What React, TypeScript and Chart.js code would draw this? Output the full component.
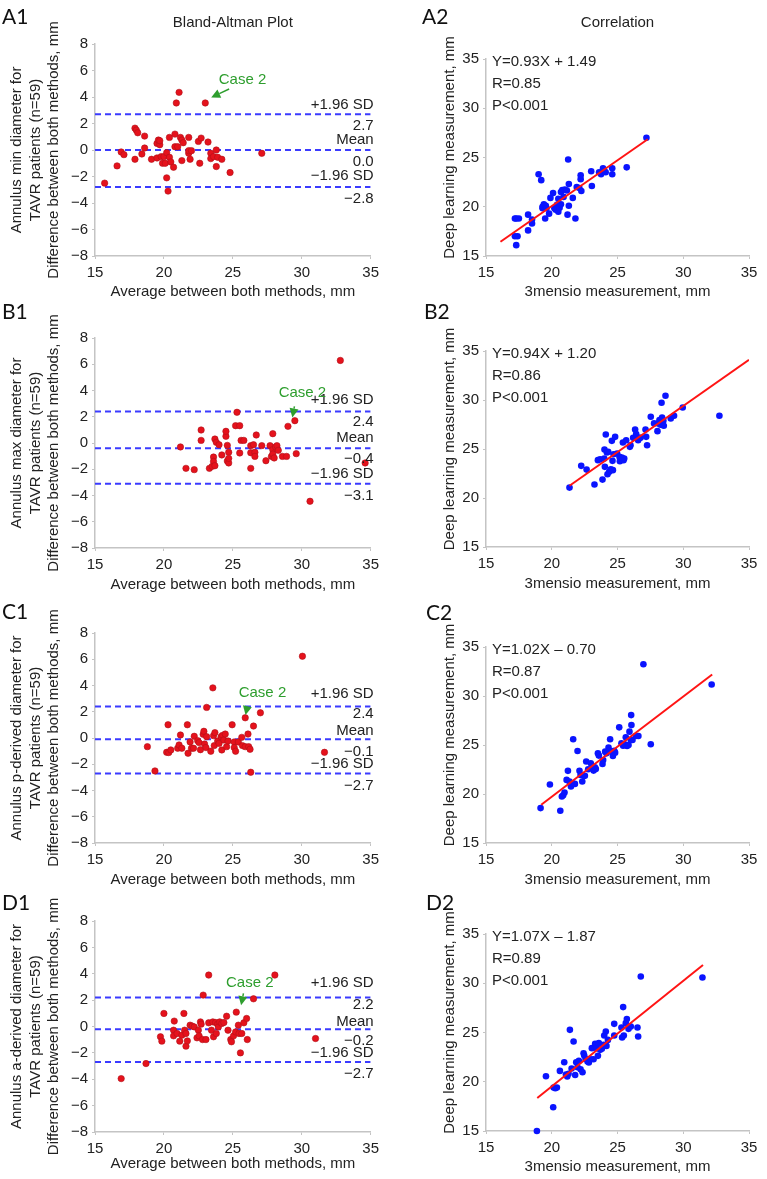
import React, { useEffect, useRef } from "react";
import { Chart, registerables } from "chart.js";

Chart.register(...registerables);

const FONT = "'Liberation Sans', Arial, Helvetica, sans-serif";
const LABEL_FONT = "Lato, 'Open Sans', sans-serif";

// ---------- tick labels ----------
const X_TICKS = [15, 20, 25, 30, 35];
const BA_Y_TICKS = [-8, -6, -4, -2, 0, 2, 4, 6, 8];
const CORR_Y_TICKS = [15, 20, 25, 30, 35];

// ---------- A1: annulus min diameter (Bland-Altman) ----------
const A1_avg = [15.7, 16.6, 16.9, 17.1, 17.9, 17.9, 18.0, 18.1, 18.4, 18.6, 18.6, 19.1, 19.5, 19.5, 19.6, 19.7, 19.7, 19.8, 19.9, 20.0, 20.1, 20.2, 20.2, 20.3, 20.4, 20.4, 20.5, 20.7, 20.8, 20.8, 20.9, 21.0, 21.1, 21.2, 21.3, 21.3, 21.4, 21.8, 21.8, 21.8, 21.9, 22.0, 22.5, 22.6, 22.7, 23.0, 23.2, 23.4, 23.4, 23.6, 23.8, 23.8, 23.9, 24.2, 24.8, 27.1];
const A1_diff = [-2.5, -1.2, -0.15, -0.35, -0.7, 1.65, 1.5, 1.3, -0.3, 1.05, 0.15, -0.7, 0.5, -0.6, 0.75, 0.4, 0.7, -0.5, -1.0, -0.5, -1.0, -2.1, -0.2, -3.1, 0.95, -0.55, -0.9, -1.3, 0.25, 1.2, 3.55, 0.25, 4.35, 0.95, -0.8, 0.75, 0.55, -0.25, -0.05, 0.95, -0.7, -0.05, 0.65, -1.0, 0.9, 3.55, 0.6, -0.25, -0.65, -0.5, 0.0, -1.25, -0.55, -0.7, -1.7, -0.25];
const A1_limits = [2.7, 0.0, -2.8];

// ---------- B1: annulus max diameter ----------
const B1_avg = [21.2, 21.6, 22.2, 22.7, 22.7, 23.3, 23.5, 23.6, 23.6, 23.7, 23.7, 23.8, 24.0, 24.2, 24.5, 24.5, 24.6, 24.6, 24.7, 24.7, 24.7, 25.3, 25.2, 25.5, 25.5, 25.6, 25.8, 26.3, 26.3, 26.3, 26.5, 26.6, 26.6, 26.7, 27.1, 27.4, 27.7, 27.8, 27.9, 27.9, 27.9, 28.0, 28.1, 28.2, 28.3, 28.6, 28.9, 29.0, 29.5, 29.6, 30.6, 32.8, 34.6];
const B1_diff = [-0.3, -1.93, -2.03, 0.99, 0.2, -1.93, -1.78, -1.07, -1.4, -1.73, 0.3, 0.05, -0.13, -0.91, 0.51, 0.89, -0.18, -1.37, -1.52, -0.71, -1.17, 2.34, 1.32, 1.32, -0.76, 0.2, 0.2, -0.2, -0.74, -1.93, -0.13, -0.71, -1.02, 0.61, -0.2, -1.35, -0.2, -1.02, -0.51, 0.71, -0.84, -1.14, -0.3, -0.2, -0.56, -1.02, -1.02, 1.27, 1.7, -0.81, -4.44, 6.29, -1.52];
const B1_limits = [2.4, -0.4, -3.1];

// ---------- C1: annulus p-derived diameter ----------
const C1_avg = [18.8, 19.35, 20.2, 20.3, 20.35, 20.5, 21.0, 21.1, 21.2, 21.3, 21.7, 21.75, 21.9, 22.0, 22.15, 22.2, 22.45, 22.55, 22.65, 22.85, 22.9, 22.95, 23.05, 23.1, 23.1, 23.4, 23.55, 23.6, 23.65, 23.7, 23.9, 24.0, 24.15, 24.2, 24.25, 24.35, 24.45, 24.55, 24.65, 24.95, 25.1, 25.1, 25.2, 25.4, 25.65, 25.7, 25.9, 25.9, 26.1, 26.15, 26.25, 26.3, 26.5, 27.0, 30.05, 31.65];
const C1_diff = [-0.66, -2.51, -1.09, 1.01, -1.11, -0.91, -0.78, -0.53, 0.23, -0.78, 1.01, -1.16, -0.3, -0.78, -0.78, 0.13, -0.2, -0.35, -0.89, 0.28, 0.51, -0.46, -0.73, 2.33, 0.1, -1.01, 3.82, 0.18, -0.58, 0.41, -0.23, -0.41, 0.1, -0.91, 0.2, -0.15, 0.3, -0.66, -0.23, 1.01, -0.3, -0.73, -1.01, -0.3, 0.05, -0.58, -0.66, 1.54, 0.3, -0.66, -0.86, -2.61, 0.91, 1.92, 6.23, -1.09];
const C1_limits = [2.4, -0.1, -2.7];

// ---------- D1: annulus a-derived diameter ----------
const D1_avg = [16.9, 18.7, 19.75, 19.85, 20.0, 20.75, 20.7, 20.7, 20.95, 21.15, 21.3, 21.45, 21.5, 21.6, 21.6, 21.7, 21.9, 22.05, 22.2, 22.4, 22.5, 22.55, 22.65, 22.7, 22.8, 22.85, 23.05, 23.25, 23.25, 23.45, 23.55, 23.6, 23.75, 23.8, 23.9, 23.95, 24.05, 24.2, 24.35, 24.55, 24.65, 24.85, 24.9, 25.05, 25.25, 25.2, 25.4, 25.45, 25.55, 25.65, 25.8, 26.0, 26.05, 26.5, 28.05, 31.0];
const D1_diff = [-3.95, -2.81, -0.78, -1.11, 0.99, 0.41, -0.28, -0.71, -0.53, -1.11, -0.66, 0.99, -0.28, -0.53, -1.49, -1.09, 0.1, 0.03, -0.03, -0.86, -0.28, -0.71, 0.35, 0.18, -0.99, 2.38, -0.99, 3.9, 0.28, -0.28, 0.35, -0.78, 0.3, -0.53, 0.18, -0.03, 0.35, 0.23, 0.3, 0.78, -0.28, -0.99, -1.16, -0.71, 1.09, -0.41, 0.1, -0.53, -2.0, -0.53, 0.28, 0.61, -0.99, 2.1, 3.9, -0.91];
const D1_limits = [2.2, -0.2, -2.7];

// ---------- A2: correlation min diameter ----------
const A2_x = [17.2, 17.3, 17.5, 17.2, 17.4, 17.3, 18.2, 18.2, 18.5, 18.5, 19.0, 19.2, 19.3, 19.3, 19.4, 19.5, 19.55, 19.6, 19.8, 19.9, 20.1, 20.2, 20.3, 20.4, 20.5, 20.5, 20.6, 20.7, 20.7, 20.8, 20.9, 21.0, 21.15, 21.25, 21.2, 21.3, 21.3, 21.6, 21.8, 21.9, 22.1, 22.2, 22.2, 22.25, 23.0, 23.05, 23.6, 23.75, 23.9, 24.0, 24.1, 24.6, 24.6, 25.7, 27.2];
const A2_y = [18.8, 18.8, 18.8, 17.0, 17.0, 16.1, 19.2, 17.6, 18.7, 18.3, 23.3, 22.7, 19.85, 20.0, 20.25, 18.8, 20.1, 19.85, 19.3, 20.9, 21.4, 19.85, 19.7, 20.2, 19.5, 20.8, 19.9, 21.5, 20.25, 21.7, 21.0, 21.75, 21.65, 24.8, 19.2, 20.1, 22.3, 20.9, 18.8, 22.0, 21.9, 22.8, 23.2, 21.6, 23.6, 22.1, 23.5, 23.3, 23.9, 23.6, 23.5, 23.9, 23.3, 24.0, 27.0];
const A2_fitX = [16.1, 27.3];
const A2_fitY = [16.45, 26.85];
const A2_stats = ["Y=0.93X + 1.49", "R=0.85", "P<0.001"];

// ---------- B2: correlation max diameter ----------
const B2_x = [21.35, 22.24, 22.65, 23.25, 23.51, 23.68, 23.86, 23.99, 24.01, 24.11, 24.04, 24.19, 24.24, 24.29, 24.37, 24.49, 24.57, 24.62, 24.65, 24.7, 24.82, 24.97, 25.15, 25.18, 25.33, 25.41, 25.46, 25.51, 25.66, 25.94, 25.99, 26.19, 26.34, 26.42, 26.57, 26.65, 26.75, 27.13, 27.18, 27.25, 27.53, 27.78, 28.04, 28.1, 28.19, 28.27, 28.35, 28.39, 28.42, 28.49, 28.52, 28.65, 29.05, 29.3, 29.96, 32.75];
const B2_y = [21.06, 23.28, 22.9, 21.37, 23.86, 23.96, 21.88, 24.03, 24.95, 26.48, 23.18, 24.64, 22.43, 24.71, 22.67, 22.94, 25.83, 23.79, 22.84, 24.47, 26.24, 24.54, 24.2, 23.76, 24.13, 25.66, 23.86, 24.03, 25.9, 25.22, 25.39, 26.14, 26.99, 26.52, 25.9, 26.14, 26.14, 26.99, 26.24, 25.39, 28.29, 27.61, 26.82, 27.61, 27.95, 27.47, 29.72, 28.22, 27.61, 27.88, 27.37, 30.43, 28.12, 28.39, 29.24, 28.39];
const B2_fitX = [21.35, 35.0];
const B2_fitY = [21.25, 34.1];
const B2_stats = ["Y=0.94X + 1.20", "R=0.86", "P<0.001"];

// ---------- C2: correlation p-derived diameter ----------
const C2_x = [19.15, 19.86, 20.65, 20.77, 20.87, 20.97, 21.13, 21.23, 21.35, 21.46, 21.58, 21.63, 21.76, 21.96, 22.11, 22.19, 22.32, 22.42, 22.52, 22.62, 22.77, 22.97, 23.1, 23.18, 23.28, 23.35, 23.51, 23.58, 23.86, 23.91, 24.06, 24.16, 24.32, 24.39, 24.44, 24.54, 24.65, 24.75, 24.82, 25.13, 25.3, 25.43, 25.51, 25.63, 25.73, 25.84, 25.91, 26.01, 26.04, 26.06, 26.14, 26.39, 26.59, 26.97, 27.53, 32.16];
const C2_y = [18.56, 20.97, 18.29, 19.75, 19.88, 20.15, 21.44, 22.36, 21.27, 20.76, 21.1, 25.58, 21.03, 24.39, 22.36, 21.95, 21.27, 21.85, 21.85, 23.31, 22.53, 23.14, 22.8, 22.39, 22.73, 22.56, 24.15, 23.92, 23.07, 23.47, 24.32, 24.15, 24.73, 24.42, 25.58, 24.32, 23.88, 24.42, 24.22, 26.8, 25.17, 24.93, 25.1, 25.78, 24.9, 25.0, 26.36, 25.51, 28.05, 27.03, 25.51, 25.92, 25.92, 33.24, 25.07, 31.17];
const C2_fitX = [19.2, 32.2];
const C2_fitY = [18.9, 32.2];
const C2_stats = ["Y=1.02X \u2013 0.70", "R=0.87", "P<0.001"];

// ---------- D2: correlation a-derived diameter ----------
const D2_x = [18.87, 19.56, 20.11, 20.14, 20.27, 20.39, 20.62, 20.95, 21.08, 21.18, 21.28, 21.38, 21.51, 21.66, 21.78, 21.86, 21.96, 22.06, 22.19, 22.34, 22.42, 22.47, 22.57, 22.72, 22.82, 22.95, 23.05, 23.18, 23.3, 23.41, 23.51, 23.58, 23.68, 23.81, 23.94, 23.99, 24.11, 24.16, 24.27, 24.75, 24.75, 25.3, 25.35, 25.43, 25.48, 25.63, 25.71, 25.84, 26.01, 26.52, 26.57, 26.77, 31.46];
const D2_y = [15.0, 20.56, 17.41, 19.41, 19.34, 19.41, 21.1, 21.98, 20.73, 20.53, 20.8, 25.27, 21.34, 24.08, 20.69, 21.98, 21.47, 22.12, 21.27, 20.97, 22.9, 22.66, 22.32, 22.05, 21.95, 22.29, 23.41, 22.29, 23.85, 23.41, 22.63, 23.92, 23.24, 23.34, 23.75, 24.69, 25.1, 23.64, 24.25, 24.69, 25.88, 25.51, 24.49, 27.58, 24.69, 25.95, 26.36, 25.37, 25.61, 25.51, 24.59, 30.69, 30.59];
const D2_fitX = [18.9, 31.5];
const D2_fitY = [18.35, 31.85];
const D2_stats = ["Y=1.07X \u2013 1.87", "R=0.89", "P<0.001"];

// ---------- texts ----------
const BA_TITLE = "Bland-Altman Plot";
const CORR_TITLE = "Correlation";
const BA_X_TITLE = "Average between both methods, mm";
const CORR_X_TITLE = "3mensio measurement, mm";
const CORR_Y_TITLE = "Deep learning measurement, mm";
const BA_Y_LAST = "Difference between both methods, mm";
const LIMIT_NAMES = ["+1.96 SD", "Mean", "\u22121.96 SD"];
const CASE_TEXT = "Case 2";

// ---------- styling / layout ----------
const AXIS_COLOR = "#c4c4c4";
const TEXT_COLOR = "#222222";
const RED = "#e5121c";
const BLUE = "#0a14ff";
const DASH_BLUE = "#3b3bff";
const FIT_RED = "#ff1414";
const GREEN = "#2e9e2e";
const YW = 40;
const XH = 25;

type Rect = { left: number; top: number; right: number; bottom: number };

interface Panel {
  id: string;
  kind: "ba" | "corr";
  label: string;
  labelPos: [number, number];
  title?: string;
  canvas: { x: number; y: number; w: number; h: number };
  area: Rect;
  xTitleDy: number;
  xs: number[];
  ys: number[];
  yTitle: string[];
  limits?: number[];
  limitOffsets?: number[][];
  caseText?: [number, number];
  caseArrow?: [[number, number], [number, number]];
  fitX?: number[];
  fitY?: number[];
  stats?: string[];
}

const LEFT = { x: 0, w: 384 };
const RIGHT = { x: 384, w: 383 };
const ROWS = [
  { y: 0, h: 318 },
  { y: 288, h: 318 },
  { y: 578, h: 318 },
  { y: 868, h: 311 },
];

const PANELS: Panel[] = [
  {
    id: "A1", kind: "ba", label: "A1", labelPos: [2, 17], title: BA_TITLE,
    canvas: { ...LEFT, ...ROWS[0] }, area: { left: 95, right: 372, top: 44, bottom: 256 }, xTitleDy: 36,
    xs: A1_avg, ys: A1_diff, yTitle: ["Annulus min diameter for", "TAVR patients (n=59)", BA_Y_LAST],
    limits: A1_limits, limitOffsets: [[-9, 12], [-10, 12], [-11, 12]],
    caseText: [25.7, 5.3], caseArrow: [[24.73, 4.6], [23.43, 3.97]],
  },
  {
    id: "A2", kind: "corr", label: "A2", labelPos: [422, 17], title: CORR_TITLE,
    canvas: { ...RIGHT, ...ROWS[0] }, area: { left: 486, right: 749, top: 59, bottom: 256 }, xTitleDy: 36,
    xs: A2_x, ys: A2_y, yTitle: [CORR_Y_TITLE], fitX: A2_fitX, fitY: A2_fitY, stats: A2_stats,
  },
  {
    id: "B1", kind: "ba", label: "B1", labelPos: [2, 312],
    canvas: { ...LEFT, ...ROWS[1] }, area: { left: 95, right: 372, top: 338, bottom: 548 }, xTitleDy: 37,
    xs: B1_avg, ys: B1_diff, yTitle: ["Annulus max diameter for", "TAVR patients (n=59)", BA_Y_LAST],
    limits: B1_limits, limitOffsets: [[-12, 10], [-10, 11], [-10, 12]],
    caseText: [30.05, 3.81], caseArrow: [[29.47, 2.79], [29.32, 1.95]],
  },
  {
    id: "B2", kind: "corr", label: "B2", labelPos: [424, 312],
    canvas: { ...RIGHT, ...ROWS[1] }, area: { left: 486, right: 749, top: 351, bottom: 547 }, xTitleDy: 37,
    xs: B2_x, ys: B2_y, yTitle: [CORR_Y_TITLE], fitX: B2_fitX, fitY: B2_fitY, stats: B2_stats,
  },
  {
    id: "C1", kind: "ba", label: "C1", labelPos: [2, 612],
    canvas: { ...LEFT, ...ROWS[2] }, area: { left: 95, right: 372, top: 633, bottom: 843 }, xTitleDy: 37,
    xs: C1_avg, ys: C1_diff, yTitle: ["Annulus p-derived diameter for", "TAVR patients (n=59)", BA_Y_LAST],
    limits: C1_limits, limitOffsets: [[-13, 7], [-8, 13], [-10, 12]],
    caseText: [27.15, 3.44], caseArrow: [[26.06, 2.43], [25.92, 1.75]],
  },
  {
    id: "C2", kind: "corr", label: "C2", labelPos: [426, 613],
    canvas: { ...RIGHT, ...ROWS[2] }, area: { left: 486, right: 749, top: 647, bottom: 843 }, xTitleDy: 37,
    xs: C2_x, ys: C2_y, yTitle: [CORR_Y_TITLE], fitX: C2_fitX, fitY: C2_fitY, stats: C2_stats,
  },
  {
    id: "D1", kind: "ba", label: "D1", labelPos: [2, 903],
    canvas: { ...LEFT, ...ROWS[3] }, area: { left: 95, right: 372, top: 921, bottom: 1132 }, xTitleDy: 32,
    xs: D1_avg, ys: D1_diff, yTitle: ["Annulus a-derived diameter for", "TAVR patients (n=59)", BA_Y_LAST],
    limits: D1_limits, limitOffsets: [[-15, 7], [-7, 12], [-9, 12]],
    caseText: [26.23, 3.32], caseArrow: [[25.77, 2.51], [25.6, 1.62]],
  },
  {
    id: "D2", kind: "corr", label: "D2", labelPos: [426, 903],
    canvas: { ...RIGHT, ...ROWS[3] }, area: { left: 486, right: 749, top: 934, bottom: 1131 }, xTitleDy: 36,
    xs: D2_x, ys: D2_y, yTitle: [CORR_Y_TITLE], fitX: D2_fitX, fitY: D2_fitY, stats: D2_stats,
  },
];

const fmtNum = (v: number, digits = 0) => {
  const s = Math.abs(v).toFixed(digits);
  return v < 0 ? "\u2212" + s : s;
};

function scaleCfg(ticks: number[], axis: "x" | "y") {
  return {
    type: "linear",
    min: ticks[0],
    max: ticks[ticks.length - 1],
    afterBuildTicks: (s: any) => {
      s.ticks = ticks.map((v) => ({ value: v }));
    },
    afterFit: (s: any) => {
      if (axis === "x") s.height = XH;
      else s.width = YW;
    },
    ticks: {
      font: { size: 15, family: FONT },
      color: TEXT_COLOR,
      padding: axis === "x" ? 5 : 4,
      callback: (v: any) => fmtNum(Number(v)),
    },
    grid: { display: true, drawOnChartArea: false, drawTicks: true, tickLength: 3, color: AXIS_COLOR, lineWidth: 1 },
    border: { display: true, color: AXIS_COLOR, width: 1.5 },
  };
}

function drawArrow(ctx: CanvasRenderingContext2D, x1: number, y1: number, x2: number, y2: number) {
  const ang = Math.atan2(y2 - y1, x2 - x1);
  const head = 9;
  const half = 4.5;
  const bx = x2 - head * Math.cos(ang);
  const by = y2 - head * Math.sin(ang);
  ctx.strokeStyle = GREEN;
  ctx.fillStyle = GREEN;
  ctx.lineWidth = 1.5;
  ctx.beginPath();
  ctx.moveTo(x1, y1);
  ctx.lineTo(bx, by);
  ctx.stroke();
  ctx.beginPath();
  ctx.moveTo(x2, y2);
  ctx.lineTo(bx + half * Math.sin(ang), by - half * Math.cos(ang));
  ctx.lineTo(bx - half * Math.sin(ang), by + half * Math.cos(ang));
  ctx.closePath();
  ctx.fill();
}

function overlayPlugin(p: Panel) {
  return {
    id: "overlay" + p.id,
    afterDraw(chart: any) {
      const { ctx, chartArea: a, scales } = chart;
      const sx = scales.x;
      const sy = scales.y;
      const ox = p.canvas.x;
      const oy = p.canvas.y;
      const cx = (a.left + a.right) / 2;
      const cy = (a.top + a.bottom) / 2;
      ctx.save();
      ctx.font = `21px ${LABEL_FONT}`;
      ctx.fillStyle = "#111";
      ctx.textAlign = "left";
      ctx.textBaseline = "middle";
      ctx.fillText(p.label, p.labelPos[0] - ox, p.labelPos[1] - oy);
      ctx.font = `15px ${FONT}`;
      ctx.fillStyle = TEXT_COLOR;
      if (p.title) {
        ctx.textAlign = "center";
        ctx.fillText(p.title, cx, 23 - oy);
      }
      ctx.textAlign = "center";
      ctx.fillText(p.kind === "ba" ? BA_X_TITLE : CORR_X_TITLE, cx, a.bottom + p.xTitleDy);
      const yDx = p.kind === "ba" ? [-78, -59, -41] : [-36];
      const yCy = p.kind === "ba" ? cy : cy - 10;
      p.yTitle.forEach((line, i) => {
        ctx.save();
        ctx.translate(a.left + yDx[i], yCy);
        ctx.rotate(-Math.PI / 2);
        ctx.textAlign = "center";
        ctx.textBaseline = "middle";
        ctx.fillText(line, 0, 0);
        ctx.restore();
      });
      if (p.kind === "ba" && p.limits && p.limitOffsets) {
        ctx.textAlign = "right";
        ctx.textBaseline = "middle";
        ctx.fillStyle = TEXT_COLOR;
        p.limits.forEach((v, i) => {
          const py = sy.getPixelForValue(v);
          const [up, down] = p.limitOffsets![i];
          ctx.fillText(LIMIT_NAMES[i], a.right + 3, py + up);
          ctx.fillText(fmtNum(v, 1), a.right + 3, py + down);
        });
        if (p.caseText && p.caseArrow) {
          ctx.fillStyle = GREEN;
          ctx.textAlign = "center";
          ctx.fillText(CASE_TEXT, sx.getPixelForValue(p.caseText[0]), sy.getPixelForValue(p.caseText[1]));
          const [[tx, ty], [hx, hy]] = p.caseArrow;
          drawArrow(ctx, sx.getPixelForValue(tx), sy.getPixelForValue(ty), sx.getPixelForValue(hx), sy.getPixelForValue(hy));
        }
      }
      if (p.kind === "corr" && p.stats) {
        ctx.textAlign = "left";
        ctx.textBaseline = "middle";
        ctx.fillStyle = TEXT_COLOR;
        const dys = [3, 25, 47];
        p.stats.forEach((s, i) => ctx.fillText(s, a.left + 6, a.top + dys[i]));
      }
      ctx.restore();
    },
  };
}

function buildConfig(p: Panel): any {
  const points = p.xs.map((x, i) => ({ x, y: p.ys[i] }));
  const datasets: any[] = [];
  if (p.kind === "ba") {
    datasets.push({
      type: "scatter",
      data: points,
      backgroundColor: RED,
      borderColor: "#b0101a",
      borderWidth: 0.6,
      pointRadius: 3.2,
      clip: false,
      order: 0,
    });
    (p.limits || []).forEach((v) => {
      datasets.push({
        type: "line",
        data: [
          { x: X_TICKS[0], y: v },
          { x: X_TICKS[X_TICKS.length - 1], y: v },
        ],
        borderColor: DASH_BLUE,
        borderWidth: 2,
        borderDash: [6, 4],
        pointRadius: 0,
        showLine: true,
        fill: false,
        order: 1,
      });
    });
  } else {
    datasets.push({
      type: "scatter",
      data: points,
      backgroundColor: BLUE,
      borderColor: BLUE,
      borderWidth: 0,
      pointRadius: 3.3,
      clip: false,
      order: 1,
    });
    datasets.push({
      type: "line",
      data: (p.fitX || []).map((x, i) => ({ x, y: p.fitY![i] })),
      borderColor: FIT_RED,
      borderWidth: 2,
      pointRadius: 0,
      showLine: true,
      fill: false,
      order: 0,
    });
  }
  const a = p.area;
  const c = p.canvas;
  return {
    type: "scatter",
    data: { datasets },
    options: {
      responsive: false,
      animation: false,
      devicePixelRatio: 1,
      layout: {
        padding: {
          left: a.left - c.x - YW,
          top: a.top - c.y,
          right: c.x + c.w - a.right,
          bottom: c.y + c.h - a.bottom - XH,
        },
      },
      plugins: { legend: { display: false }, tooltip: { enabled: false }, title: { display: false } },
      scales: {
        x: scaleCfg(X_TICKS, "x"),
        y: scaleCfg(p.kind === "ba" ? BA_Y_TICKS : CORR_Y_TICKS, "y"),
      },
    },
    plugins: [overlayPlugin(p)],
  };
}

function PanelChart({ p }: { p: Panel }) {
  const ref = useRef<HTMLCanvasElement | null>(null);
  useEffect(() => {
    if (!ref.current) return;
    Chart.defaults.font.family = FONT;
    const chart = new Chart(ref.current, buildConfig(p));
    return () => chart.destroy();
  }, [p]);
  return (
    <canvas
      ref={ref}
      width={p.canvas.w}
      height={p.canvas.h}
      style={{ position: "absolute", left: p.canvas.x, top: p.canvas.y, width: p.canvas.w, height: p.canvas.h }}
    />
  );
}

export default function App() {
  return (
    <div style={{ position: "absolute", left: 0, top: 0, width: 767, height: 1179, background: "#fff", overflow: "hidden" }}>
      {PANELS.map((p) => (
        <PanelChart key={p.id} p={p} />
      ))}
    </div>
  );
}
